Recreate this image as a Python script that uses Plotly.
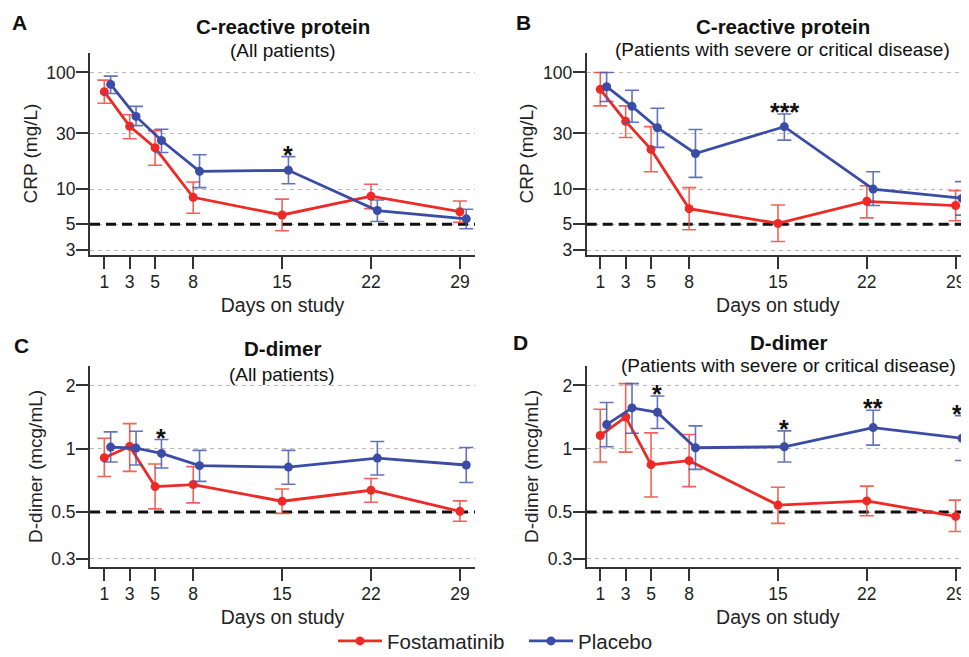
import math
import plotly.graph_objects as go

days = [1, 3, 5, 8, 15, 22, 29]
day_ticks = ["1", "3", "5", "8", "15", "22", "29"]

# Panel A: CRP, all patients
crpA_fost = [68.5, 34.6, 22.6, 8.5, 6.0, 8.7, 6.4]
crpA_fost_hi = [86, 43.4, 31.7, 11.5, 8.2, 11.0, 7.9]
crpA_fost_lo = [54.5, 27.0, 16.0, 6.2, 4.4, 6.8, 5.2]
crpA_plac = [79, 42, 26.1, 14.2, 14.5, 6.55, 5.56]
crpA_plac_hi = [93, 51.2, 32.6, 19.7, 19.0, 8.07, 6.72]
crpA_plac_lo = [66, 35, 20.6, 10.3, 11.1, 5.28, 4.57]

# Panel B: CRP, severe/critical
crpB_fost = [71.7, 38.1, 21.9, 6.8, 5.08, 7.86, 7.23]
crpB_fost_hi = [100, 51.7, 34.3, 10.3, 7.3, 10.7, 9.7]
crpB_fost_lo = [51.7, 27.7, 14.1, 4.48, 3.55, 5.67, 5.35]
crpB_plac = [75.5, 51.2, 33.6, 20.2, 34.3, 10.0, 8.34]
crpB_plac_hi = [100, 70.3, 49.4, 32.4, 44, 14.1, 11.6]
crpB_plac_lo = [56.4, 37.4, 22.8, 12.6, 26.3, 7.23, 5.98]

# Panel C: D-dimer, all patients
ddC_fost = [0.906, 1.026, 0.661, 0.676, 0.563, 0.635, 0.504]
ddC_fost_hi = [1.122, 1.317, 0.846, 0.822, 0.644, 0.722, 0.565]
ddC_fost_lo = [0.738, 0.781, 0.518, 0.553, 0.493, 0.557, 0.452]
ddC_plac = [1.018, 1.007, 0.95, 0.831, 0.818, 0.903, 0.837]
ddC_plac_hi = [1.203, 1.211, 1.106, 0.982, 0.982, 1.083, 1.014]
ddC_plac_lo = [0.865, 0.837, 0.81, 0.70, 0.678, 0.75, 0.691]

# Panel D: D-dimer, severe/critical
ddD_fost = [1.156, 1.416, 0.84, 0.878, 0.54, 0.565, 0.477]
ddD_fost_hi = [1.54, 2.04, 1.19, 1.169, 0.656, 0.664, 0.57]
ddD_fost_lo = [0.865, 0.964, 0.59, 0.661, 0.442, 0.48, 0.404]
ddD_plac = [1.303, 1.563, 1.489, 1.011, 1.022, 1.26, 1.122]
ddD_plac_hi = [1.66, 2.04, 1.78, 1.284, 1.216, 1.524, 1.436]
ddD_plac_lo = [1.022, 1.185, 1.247, 0.798, 0.865, 1.04, 0.88]

crp_ticks = [3, 5, 10, 30, 100]
crp_ticktext = ["3", "5", "10", "30", "100"]
dd_ticks = [0.3, 0.5, 1, 2]
dd_ticktext = ["0.3", "0.5", "1", "2"]
crp_ref = 5
dd_ref = 0.5

# significance markers: (panel, day, label)
stars = [("A", 15, "*"), ("B", 15, "***"), ("C", 5, "*"),
         ("D", 5, "*"), ("D", 15, "*"), ("D", 22, "**"), ("D", 29, "**")]

RED = "#EE2A26"
BLUE = "#3A4CA6"
RED_EB = "rgba(240,70,60,0.85)"
BLUE_EB = "rgba(70,90,175,0.85)"
FONT = "Liberation Sans, Arial, Helvetica, sans-serif"
DODGE = 0.5

# page body has an 8px margin; layout positions below are given in window pixels
OFF = 8
W, H = 961, 680
def px(x):
    return (x - OFF) / W
def py(y):
    return 1 - (y - OFF) / H

panels = {
    "A": dict(ax="", fost=(crpA_fost, crpA_fost_hi, crpA_fost_lo),
              plac=(crpA_plac, crpA_plac_hi, crpA_plac_lo),
              xdom=[px(90), px(475)], ydom=[py(256.7), py(53)],
              xr=[-0.126, 30.19], yr=[math.log10(2.75), math.log10(148)],
              tv=crp_ticks, tt=crp_ticktext, ref=crp_ref, ytitle="CRP (mg/L)"),
    "B": dict(ax="2", fost=(crpB_fost, crpB_fost_hi, crpB_fost_lo),
              plac=(crpB_plac, crpB_plac_hi, crpB_plac_lo),
              xdom=[px(586.7), 1.0], ydom=[py(256.7), py(53)],
              xr=[-0.07, 30.05], yr=[math.log10(2.75), math.log10(148)],
              tv=crp_ticks, tt=crp_ticktext, ref=crp_ref, ytitle="CRP (mg/L)"),
    "C": dict(ax="3", fost=(ddC_fost, ddC_fost_hi, ddC_fost_lo),
              plac=(ddC_plac, ddC_plac_hi, ddC_plac_lo),
              xdom=[px(90), px(475)], ydom=[py(571.7), py(369.3)],
              xr=[-0.126, 30.19], yr=[math.log10(0.275), math.log10(2.47)],
              tv=dd_ticks, tt=dd_ticktext, ref=dd_ref, ytitle="D-dimer (mcg/mL)"),
    "D": dict(ax="4", fost=(ddD_fost, ddD_fost_hi, ddD_fost_lo),
              plac=(ddD_plac, ddD_plac_hi, ddD_plac_lo),
              xdom=[px(586.7), 1.0], ydom=[py(571.7), py(369.3)],
              xr=[-0.07, 30.05], yr=[math.log10(0.275), math.log10(2.47)],
              tv=dd_ticks, tt=dd_ticktext, ref=dd_ref, ytitle="D-dimer (mcg/mL)"),
}

fig = go.Figure()
layout = {}
annotations = []

for key, p in panels.items():
    xa, ya = "x" + p["ax"], "y" + p["ax"]
    # reference (upper limit of normal) line
    fig.add_trace(go.Scatter(x=p["xr"], y=[p["ref"], p["ref"]], mode="lines",
                             line=dict(color="#111111", width=3, dash="10px,6px"),
                             xaxis=xa, yaxis=ya, showlegend=False, hoverinfo="skip"))
    for name, (vals, hi, lo), color, ebc, xs in [
        ("Fostamatinib", p["fost"], RED, RED_EB, days),
        ("Placebo", p["plac"], BLUE, BLUE_EB, [d + DODGE for d in days]),
    ]:
        fig.add_trace(go.Scatter(
            x=xs, y=vals, mode="lines+markers", name=name,
            line=dict(color=color, width=2.8),
            marker=dict(color=color, size=9),
            error_y=dict(type="data", symmetric=False,
                         array=[h - v for h, v in zip(hi, vals)],
                         arrayminus=[v - l for v, l in zip(vals, lo)],
                         color=ebc, thickness=1.6, width=7),
            xaxis=xa, yaxis=ya, showlegend=(key == "A"), legendgroup=name))

    axis_common = dict(showline=True, linecolor="#333333", linewidth=2,
                       ticks="outside", ticklen=12, tickwidth=2, tickcolor="#333333",
                       tickfont=dict(size=17.5, color="#222222", family=FONT),
                       zeroline=False)
    layout["xaxis" + p["ax"]] = dict(
        axis_common, domain=p["xdom"], range=p["xr"], anchor=ya,
        tickvals=days, ticktext=day_ticks, showgrid=False, ticklabelstandoff=-2,
        title=dict(text="Days on study", font=dict(size=19.5, color="#222222", family=FONT), standoff=8))
    layout["yaxis" + p["ax"]] = dict(
        axis_common, domain=p["ydom"], range=p["yr"], anchor=xa, type="log",
        tickvals=p["tv"], ticktext=p["tt"], showgrid=True, gridcolor="#BBBBBB",
        gridwidth=1, griddash="4px,4px", ticklabelstandoff=-3,
        title=dict(text=p["ytitle"], font=dict(size=19, color="#222222", family=FONT), standoff=4))

# significance stars above placebo upper error bar
plac_hi = {"A": crpA_plac_hi, "B": crpB_plac_hi, "C": ddC_plac_hi, "D": ddD_plac_hi}
for key, day, label in stars:
    p = panels[key]
    i = days.index(day)
    annotations.append(dict(
        x=day + DODGE, y=math.log10(plac_hi[key][i]), xref="x" + p["ax"], yref="y" + p["ax"],
        text="<b>%s</b>" % label, showarrow=False, yanchor="bottom", yshift=-14,
        font=dict(size=25, color="#111111", family=FONT)))

# panel letters and titles (window pixel positions)
letters = [("A", 19.5, 22.5), ("B", 523, 22.5), ("C", 21.5, 348.7), ("D", 520.5, 345)]
for t, x, y in letters:
    annotations.append(dict(x=px(x), y=py(y), xref="paper", yref="paper", text="<b>%s</b>" % t,
                            showarrow=False, xanchor="center", yanchor="middle",
                            font=dict(size=21, color="#111111", family=FONT)))

titles = [
    ("C-reactive protein", "(All patients)", 282.5, 27, 50.7),
    ("C-reactive protein", "(Patients with severe or critical disease)", 782.5, 27, 50),
    ("D-dimer", "(All patients)", 282, 351.7, 377.3),
    ("D-dimer", "(Patients with severe or critical disease)", 788, 345, 369),
]
for main, sub, x, y1, y2 in titles:
    annotations.append(dict(x=px(x), y=py(y1), xref="paper", yref="paper", text="<b>%s</b>" % main,
                            showarrow=False, xanchor="center", yanchor="middle",
                            font=dict(size=20.5, color="#111111", family=FONT)))
    annotations.append(dict(x=px(x), y=py(y2), xref="paper", yref="paper", text=sub,
                            showarrow=False, xanchor="center", yanchor="middle",
                            font=dict(size=19, color="#111111", family=FONT)))

fig.update_layout(
    width=W, height=H, margin=dict(l=0, r=0, t=0, b=0),
    paper_bgcolor="white", plot_bgcolor="white",
    font=dict(family=FONT, color="#222222"),
    legend=dict(orientation="h", x=px(333), y=py(646.7), xanchor="left", yanchor="middle",
                font=dict(size=20.5, color="#222222", family=FONT), itemwidth=44,
                entrywidth=132, entrywidthmode="pixels",
                bgcolor="rgba(0,0,0,0)"),
    annotations=annotations,
    **layout,
)

fig.write_html("out.html")
